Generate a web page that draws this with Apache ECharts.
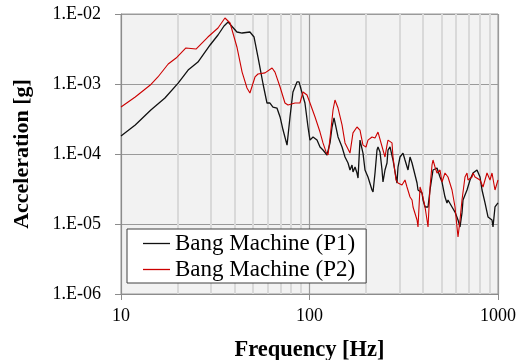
<!DOCTYPE html>
<html>
<head>
<meta charset="utf-8">
<script src="https://cdn.jsdelivr.net/npm/echarts@6/dist/echarts.min.js"></script>
<style>
html,body{margin:0;padding:0;background:#fff;}
#chart{width:531px;height:360px;}
</style>
</head>
<body>
<div id="chart"></div>
<script>
// Bang Machine (P1)
const freqP1 = [10, 11.9, 14.4, 17.1, 20.1, 22.7, 25.6, 29.7, 32.7, 35.2, 37.0, 41.2, 43.9, 48.3, 50.8, 53.3, 56.7, 59.5, 61.7, 64.0, 67.2, 69.8, 72.4, 76.0, 78.8, 81.7, 85.8, 88.0, 91.3, 94.6, 98.2, 100.6, 104.4, 109.6, 113.7, 117.9, 123.8, 128.5, 131.7, 134.9, 141.7, 148.8, 154.3, 160.1, 164.0, 168.1, 170.1, 174.4, 178.6, 180.9, 185.3, 192.2, 197.0, 204.3, 214.6, 217.3, 222.6, 228.1, 230.9, 236.6, 242.5, 245.4, 251.5, 257.7, 260.9, 267.4, 277.3, 291.2, 294.8, 302.1, 313.3, 321.1, 333.1, 341.4, 349.9, 358.5, 371.9, 376.4, 395.3, 400.2, 410.1, 425.4, 435.9, 452.1, 474.7, 492.4, 504.6, 523.4, 536.3, 542.9, 570.2, 591.5, 613.6, 628.7, 644.2, 652.2, 684.8, 710.5, 736.8, 773.7, 783.3, 802.7, 822.7, 853.4, 885.2, 929.4, 940.9, 964.0, 1000];
const accP1 = [1.81e-4, 2.60e-4, 4.25e-4, 6.31e-4, 1.03e-3, 1.58e-3, 2.06e-3, 3.61e-3, 5.01e-3, 6.74e-3, 7.69e-3, 5.53e-3, 5.35e-3, 5.53e-3, 4.69e-3, 2.43e-3, 1.00e-3, 5.35e-4, 5.35e-4, 4.69e-4, 4.54e-4, 3.38e-4, 2.20e-4, 1.34e-4, 3.38e-4, 7.69e-4, 1.07e-3, 1.07e-3, 7.44e-4, 5.35e-4, 2.43e-4, 1.58e-4, 1.75e-4, 1.58e-4, 1.26e-4, 1.14e-4, 9.67e-5, 1.44e-4, 2.43e-4, 3.27e-4, 1.75e-4, 1.26e-4, 9.06e-5, 7.44e-5, 5.91e-5, 6.97e-5, 5.53e-5, 6.52e-5, 5.35e-5, 4.54e-5, 1.58e-4, 1.03e-4, 5.91e-5, 4.69e-5, 3.06e-5, 2.86e-5, 5.35e-5, 1.14e-4, 1.26e-4, 1.07e-4, 5.91e-5, 3.98e-5, 5.91e-5, 7.44e-5, 1.14e-4, 1.26e-4, 8.21e-5, 3.85e-5, 6.52e-5, 9.06e-5, 1.03e-4, 8.21e-5, 5.91e-5, 9.06e-5, 7.44e-5, 6.97e-5, 3.85e-5, 3.06e-5, 2.77e-5, 2.20e-5, 1.75e-5, 1.75e-5, 3.06e-5, 5.91e-5, 6.31e-5, 4.69e-5, 3.98e-5, 2.43e-5, 2.00e-5, 2.20e-5, 1.75e-5, 1.48e-5, 1.14e-5, 9.06e-6, 1.44e-5, 2.20e-5, 3.06e-5, 4.25e-5, 5.35e-5, 5.91e-5, 6.31e-5, 4.69e-5, 3.06e-5, 2.00e-5, 1.26e-5, 1.14e-5, 9.06e-6, 1.75e-5, 2.00e-5];
// Bang Machine (P2)
const freqP2 = [10, 11.9, 14.3, 15.7, 17.8, 19.6, 22.1, 25.0, 28.9, 32.7, 35.6, 37.9, 41.2, 43.9, 46.6, 48.3, 51.4, 53.3, 58.1, 63.3, 65.6, 69.8, 74.1, 76.9, 83.8, 89.0, 92.4, 97.0, 100.6, 107.0, 113.7, 117.9, 122.4, 125.4, 128.5, 133.3, 136.5, 141.7, 148.8, 154.3, 164.0, 170.1, 178.6, 185.3, 192.2, 199.4, 204.3, 214.6, 222.6, 230.9, 236.6, 245.4, 251.5, 257.7, 260.9, 274.0, 277.3, 287.7, 294.8, 309.5, 321.1, 329.0, 341.4, 349.9, 354.2, 362.9, 371.9, 376.4, 385.8, 395.3, 410.1, 420.2, 425.4, 435.9, 446.6, 452.1, 463.3, 474.7, 492.4, 504.6, 510.8, 523.4, 536.3, 542.9, 570.2, 591.5, 606.1, 613.6, 628.7, 644.2, 668.2, 684.8, 693.1, 727.9, 736.8, 755.1, 802.7, 832.6, 874.3, 907.1, 929.4, 964.0, 1000];
const accP2 = [4.69e-4, 6.52e-4, 9.67e-4, 1.26e-3, 1.93e-3, 2.35e-3, 3.27e-3, 3.16e-3, 4.69e-3, 6.31e-3, 8.77e-3, 7.44e-3, 3.38e-3, 1.48e-3, 8.77e-4, 7.44e-4, 1.26e-3, 1.39e-3, 1.44e-3, 1.69e-3, 1.48e-3, 9.06e-4, 5.35e-4, 5.01e-4, 5.35e-4, 5.35e-4, 7.69e-4, 6.97e-4, 5.35e-4, 3.38e-4, 2.06e-4, 1.44e-4, 1.07e-4, 9.67e-5, 1.69e-4, 4.25e-4, 5.91e-4, 4.54e-4, 2.60e-4, 1.44e-4, 1.03e-4, 2.00e-4, 2.43e-4, 2.20e-4, 1.34e-4, 1.26e-4, 1.58e-4, 1.75e-4, 1.69e-4, 2.06e-4, 2.00e-4, 1.14e-4, 9.06e-5, 1.34e-4, 1.58e-4, 1.44e-4, 9.06e-5, 4.25e-5, 3.85e-5, 3.61e-5, 4.25e-5, 3.38e-5, 2.43e-5, 2.20e-5, 1.75e-5, 1.75e-5, 1.14e-5, 9.06e-6, 3.38e-5, 2.77e-5, 1.75e-5, 1.14e-5, 9.06e-6, 3.38e-5, 6.97e-5, 8.21e-5, 6.52e-5, 5.35e-5, 5.91e-5, 3.98e-5, 4.25e-5, 5.35e-5, 5.53e-5, 4.69e-5, 3.06e-5, 1.75e-5, 9.06e-6, 6.52e-6, 1.14e-5, 2.20e-5, 4.69e-5, 5.35e-5, 4.25e-5, 4.69e-5, 5.35e-5, 4.69e-5, 4.25e-5, 3.38e-5, 5.35e-5, 4.25e-5, 5.35e-5, 3.06e-5, 4.25e-5];
// minor vertical grid positions (Hz)
const minorFreqs = [20, 30, 40, 50, 60, 70, 80, 90, 200, 300, 400, 500, 600, 700, 800, 900];
const xTickLabels = {10: '10', 100: '100', 1000: '1000'};
const seriesNames = ['Bang Machine (P1)', 'Bang Machine (P2)'];

function zip(a, b) { return a.map((v, i) => [v, b[i]]); }
function yLabel(v) {
  const e = Math.round(Math.log10(v));
  return '1.E' + (e < 0 ? '-' : '+') + String(Math.abs(e)).padStart(2, '0');
}

const serif = '"Liberation Serif", "DejaVu Serif", serif';
const chart = echarts.init(document.getElementById('chart'), null, {renderer: 'canvas'});
chart.setOption({
  animation: false,
  backgroundColor: '#ffffff',
  grid: {left: 121, right: 33, top: 14, bottom: 66, outerBoundsMode: 'none', containLabel: false, show: true, backgroundColor: '#f2f2f2', borderColor: '#9a9a9a', borderWidth: 1},
  legend: {
    data: seriesNames,
    orient: 'vertical',
    left: 127, top: 229,
    backgroundColor: '#ffffff',
    borderColor: '#404040', borderWidth: 1,
    padding: [3, 11, 2, 16],
    itemGap: 3,
    icon: 'rect',
    itemWidth: 27, itemHeight: 1.3,
    textStyle: {fontFamily: serif, fontSize: 23, color: '#000'}
  },
  xAxis: {
    type: 'log', logBase: 10, min: 10, max: 1000,
    name: 'Frequency [Hz]', nameLocation: 'middle', nameGap: 45,
    nameTextStyle: {fontFamily: serif, fontSize: 22.5, fontWeight: 'bold', color: '#000'},
    axisLine: {show: true, lineStyle: {color: '#8c8c8c', width: 1}},
    axisTick: {show: true, inside: false, length: 6, lineStyle: {color: '#8c8c8c'}},
    axisLabel: {fontFamily: serif, fontSize: 18, color: '#000', margin: 13, formatter: v => xTickLabels[Math.round(v)] || ''},
    splitLine: {show: true, lineStyle: {color: '#9a9a9a', width: 1.2}}
  },
  yAxis: {
    type: 'log', logBase: 10, min: 1e-6, max: 1e-2,
    name: 'Acceleration [g]', nameLocation: 'middle', nameGap: 88, nameRotate: 90,
    nameTextStyle: {fontFamily: serif, fontSize: 22, fontWeight: 'bold', color: '#000'},
    axisLine: {show: true, lineStyle: {color: '#8c8c8c', width: 1}},
    axisTick: {show: true, inside: false, length: 6, lineStyle: {color: '#8c8c8c'}},
    axisLabel: {fontFamily: serif, fontSize: 18, color: '#000', margin: 20, formatter: yLabel},
    splitLine: {show: true, lineStyle: {color: '#9a9a9a', width: 1.2}}
  },
  series: [
    {
      type: 'line', name: '_minor', data: [], z: 1, silent: true,
      markLine: {
        silent: true, symbol: 'none', z: 1, animation: false,
        label: {show: false},
        lineStyle: {color: '#d9d9d9', width: 2, type: 'solid'},
        emphasis: {disabled: true},
        data: minorFreqs.map(f => ({xAxis: f}))
      }
    },
    {
      type: 'line', name: seriesNames[0], data: zip(freqP1, accP1), z: 3,
      symbol: 'none', showSymbol: false, smooth: false,
      lineStyle: {color: '#111111', width: 1.3}, itemStyle: {color: '#111111'}
    },
    {
      type: 'line', name: seriesNames[1], data: zip(freqP2, accP2), z: 4,
      symbol: 'none', showSymbol: false, smooth: false,
      lineStyle: {color: '#cc0000', width: 1.1}, itemStyle: {color: '#cc0000'}
    }
  ]
});
</script>
</body>
</html>
